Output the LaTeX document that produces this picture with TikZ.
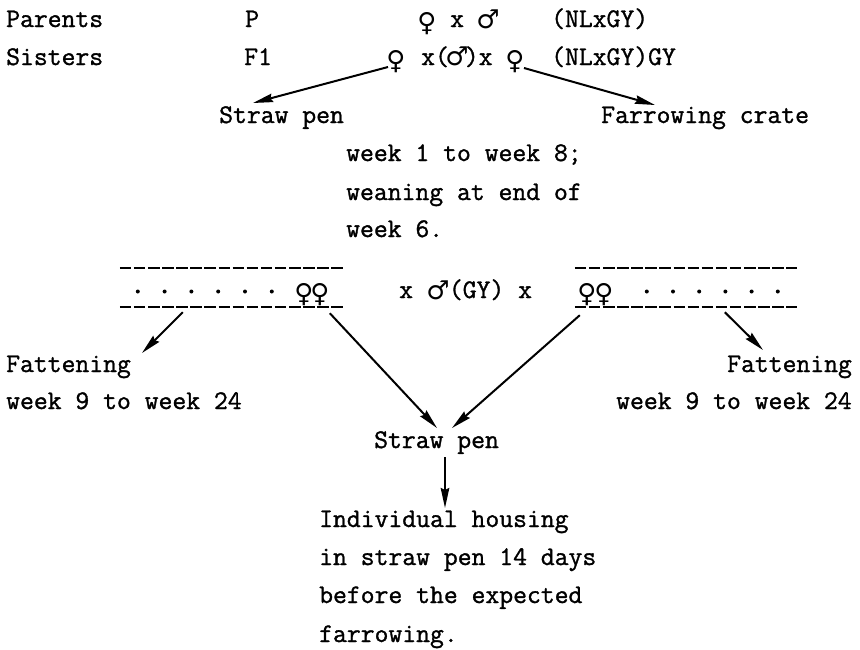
\documentclass[tikz,border=0pt]{standalone}
\usepackage{fontspec}
\newfontfamily\tw{Latin Modern Mono}[FakeBold=1.2]
\newfontfamily\symfont{DejaVu Sans Bold}
\usetikzlibrary{arrows.meta,calc}
% sex symbols, set beside the typewriter text
\newcommand\fem{{\symfont\fontsize{26}{26}\selectfont ♀}}
\newcommand\mal{{\symfont\fontsize{26}{26}\selectfont ♂}}
\newcommand\malbox{\makebox[16pt]{\mal}}

\begin{document}
\begin{tikzpicture}[x=1pt,y=-1pt,
  txt/.style={anchor=base west,inner sep=0pt,font=\tw\fontsize{26.9}{38.5}\selectfont},
  sym/.style={anchor=base,inner sep=0pt},
  conn/.style={line width=2pt,-{Stealth[length=20pt,width=8.5pt,inset=2pt]}},
  typedash/.style={line width=2.2pt,dash pattern=on 11.5pt off 2.6pt},
  penbox/.style={inner sep=0pt,minimum width=223pt,minimum height=39pt}]
\useasboundingbox (0,0) rectangle (860,649);

% generations
\node[txt] (parents) at (6,27) {Parents};
\node[txt] (gP) at (245,27) {P};
\node[sym] (femA) at (427,31) {\fem};
\node[txt] (xA) at (450,27) {x};
\node[sym] (malA) at (488,28) {\mal};
\node[txt] (crossP) at (551,27) {(NLxGY)};

\node[txt] (sisters) at (6,65) {Sisters};
\node[txt] (gF) at (244,65) {F1};
\node[sym] (femB) at (396,69) {\fem};
\node[txt] (xB) at (421,65) {x(\malbox)x};
\node[sym] (femC) at (515,69) {\fem};
\node[txt] (crossF) at (551,65) {(NLxGY)GY};

% housing of the sisters
\node[txt] (strawA) at (219,123) {Straw pen};
\node[txt] (crate) at (601,123) {Farrowing crate};
\node[txt] (wk1) at (346,161) {week 1 to week 8;};
\node[txt] (wk2) at (346,200) {weaning at end of};
\node[txt] (wk3) at (346,237) {week 6.};

% litters
\node[penbox] (penL) at (231.5,287.5) {};
\draw[typedash] (penL.north west) -- (penL.north east);
\draw[typedash] (penL.south west) -- (penL.south east);
\foreach \i in {0,...,5} \fill ($(penL.west)+(18+26.8*\i,4)$) circle (2);
\node[sym] (femL1) at (304,302) {\fem};
\node[sym] (femL2) at (320,302) {\fem};

\node[txt] (boar) at (399,298) {x \makebox[22pt]{\raisebox{-1pt}{\mal}}(GY) x};

\node[penbox,minimum width=222pt] (penR) at (686,287.5) {};
\draw[typedash] (penR.north west) -- (penR.north east);
\draw[typedash] (penR.south west) -- (penR.south east);
\foreach \i in {0,...,5} \fill ($(penR.west)+(72+26.2*\i,4)$) circle (2);
\node[sym] (femR1) at (587,302) {\fem};
\node[sym] (femR2) at (604,302) {\fem};

% destinations
\node[txt] (fatL) at (6,372) {Fattening};
\node[txt] (wkL) at (6,409) {week 9 to week 24};
\node[txt] (fatR) at (727,372) {Fattening};
\node[txt] (wkR) at (616,409) {week 9 to week 24};
\node[txt] (strawB) at (374,448) {Straw pen};
\node[txt] (house1) at (319,527) {Individual housing};
\node[txt] (house2) at (319,565) {in straw pen 14 days};
\node[txt] (house3) at (319,603) {before the expected};
\node[txt] (house4) at (319,642) {farrowing.};

% arrows
\draw[conn] ($(femB.base)+(-8,-2)$) -- ($(strawA.base west)+(34,-20)$);
\draw[conn] ($(femC.base)+(9,-1)$) -- ($(crate.base west)+(54,-18)$);
\draw[conn] ($(penL.south west)+(63,5)$) -- ($(fatL.base west)+(136,-19)$);
\draw[conn] ($(penL.south west)+(210,6)$) -- ($(strawB.base west)+(63,-20)$);
\draw[conn] ($(penR.south west)+(5,8)$) -- ($(strawB.base west)+(78,-20)$);
\draw[conn] ($(penR.south west)+(150,5)$) -- ($(fatR.base west)+(36,-22)$);
\draw[conn] ($(strawB.base west)+(71,9)$) -- ($(house1.base west)+(126,-19)$);
\end{tikzpicture}
\end{document}
